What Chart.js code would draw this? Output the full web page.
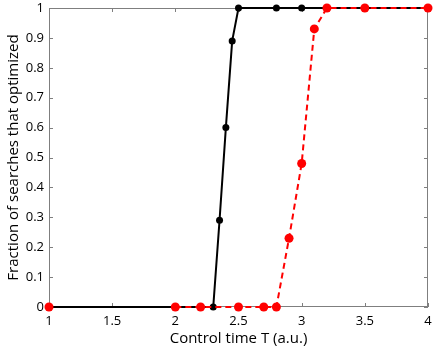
<!DOCTYPE html>
<html>
<head>
<meta charset="utf-8">
<script src="https://cdn.jsdelivr.net/npm/chart.js@4/dist/chart.umd.min.js"></script>
<style>
  html, body { margin: 0; padding: 0; background: #fff; }
  #wrap { width: 436px; height: 353px; }
</style>
</head>
<body>
<div id="wrap"><canvas id="myChart"></canvas></div>
<script>
// Chart data
var blackT = [1, 2, 2.3, 2.35, 2.4, 2.45, 2.5, 2.8, 3, 3.5, 4];
var blackFrac = [0, 0, 0, 0.29, 0.6, 0.89, 1, 1, 1, 1, 1];
var redT = [1, 2, 2.2, 2.5, 2.7, 2.8, 2.9, 3, 3.1, 3.2, 3.5, 4];
var redFrac = [0, 0, 0, 0, 0, 0, 0.23, 0.48, 0.93, 1, 1, 1];
var xTicks = [1, 1.5, 2, 2.5, 3, 3.5, 4];

var fontFam = "'Open Sans', 'DejaVu Sans', sans-serif";
var boxColor = '#7f7f7f';

function toPoints(xs, ys) {
    var out = [];
    xs.forEach(function (x, i) { out.push({ x: x, y: ys[i] }); });
    return out;
}

// MATLAB style box with inward ticks
var boxTicks = {
    id: 'boxTicks',
    beforeDatasetsDraw: function (chart) {
        var c = chart.ctx, a = chart.chartArea;
        var xs = chart.scales.x, ys = chart.scales.y;
        var len = 4;
        c.save();
        c.strokeStyle = boxColor;
        c.lineWidth = 1;
        c.strokeRect(a.left + 0.5, a.top + 0.5, a.right - a.left - 1, a.bottom - a.top - 1);
        c.beginPath();
        xTicks.forEach(function (v) {
            var px = Math.round(xs.getPixelForValue(v)) + 0.5;
            c.moveTo(px, a.bottom); c.lineTo(px, a.bottom - len);
            c.moveTo(px, a.top); c.lineTo(px, a.top + len);
        });
        for (var k = 0; k <= 10; k++) {
            var py = Math.round(ys.getPixelForValue(k / 10)) + 0.5;
            c.moveTo(a.left, py); c.lineTo(a.left + len, py);
            c.moveTo(a.right, py); c.lineTo(a.right - len, py);
        }
        c.stroke();
        c.restore();
    }
};

const ctx = document.getElementById('myChart');
const myChart = new Chart(ctx, {
    type: 'line',
    data: {
        datasets: [{
            label: 'black',
            data: toPoints(blackT, blackFrac),
            borderColor: '#000000',
            backgroundColor: '#000000',
            borderWidth: 2,
            pointRadius: 3.5,
            pointBorderWidth: 0,
            tension: 0,
            clip: false,
            order: 2
        }, {
            label: 'red',
            data: toPoints(redT, redFrac),
            borderColor: '#ff0000',
            backgroundColor: '#ff0000',
            borderWidth: 2,
            borderDash: [6, 4],
            pointRadius: 4.5,
            pointBorderWidth: 0,
            tension: 0,
            clip: false,
            order: 1,
            segment: {
                // no visible red line between T=1 and T=2
                borderColor: function (s) { return s.p0.parsed.x < 1.5 ? 'rgba(0,0,0,0)' : '#ff0000'; }
            }
        }]
    },
    options: {
        responsive: true,
        maintainAspectRatio: false,
        animation: false,
        layout: { padding: { top: 8, right: 8, left: 0, bottom: 0 } },
        plugins: {
            legend: { display: false },
            tooltip: { enabled: false }
        },
        scales: {
            x: {
                type: 'linear',
                min: 1,
                max: 4,
                afterBuildTicks: function (scale) {
                    scale.ticks = xTicks.map(function (v) { return { value: v }; });
                },
                afterFit: function (scale) {
                    scale.height = 46;
                    scale.paddingRight = 0;
                },
                grid: { display: false, drawTicks: false },
                border: { display: false },
                ticks: {
                    color: '#000',
                    padding: 6,
                    maxRotation: 0,
                    font: { family: fontFam, size: 13 },
                    callback: function (v) { return String(v); }
                },
                title: {
                    display: true,
                    text: 'Control time T (a.u.)',
                    color: '#000',
                    padding: { top: 0, bottom: 5 },
                    font: { family: fontFam, size: 15 }
                }
            },
            y: {
                min: 0,
                max: 1,
                afterFit: function (scale) {
                    scale.width = 49;
                    scale.paddingTop = 0;
                },
                grid: { display: false, drawTicks: false },
                border: { display: false },
                ticks: {
                    stepSize: 0.1,
                    color: '#000',
                    padding: 5,
                    font: { family: fontFam, size: 13 },
                    callback: function (v) { return String(+v.toFixed(1)); }
                },
                title: {
                    display: true,
                    text: 'Fraction of searches that optimized',
                    color: '#000',
                    padding: { top: 5, bottom: 0 },
                    font: { family: fontFam, size: 15 }
                }
            }
        }
    },
    plugins: [boxTicks]
});
</script>
</body>
</html>
